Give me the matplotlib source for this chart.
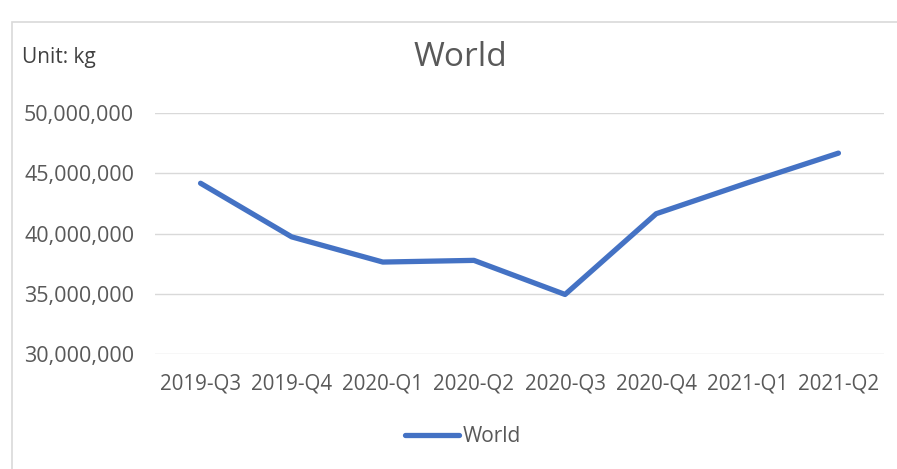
import matplotlib
matplotlib.use("Agg")
import matplotlib.pyplot as plt
from matplotlib.ticker import FuncFormatter, MultipleLocator
from matplotlib.patches import Rectangle

categories = ["2019-Q3", "2019-Q4", "2020-Q1", "2020-Q2", "2020-Q3", "2020-Q4", "2021-Q1", "2021-Q2"]
world = [44170000, 39720000, 37630000, 37770000, 34940000, 41640000, 44200000, 46670000]

plt.rcParams['font.family'] = ['Open Sans', 'DejaVu Sans']
W, H = 897, 469
fig = plt.figure(figsize=(W / 100, H / 100), dpi=100)
fig.patch.set_facecolor("white")

# chart border
fig.patches.append(Rectangle((12 / W, -0.01), 1.0, 1 - 22 / H + 0.01, transform=fig.transFigure,
                             fill=False, edgecolor="#d9d9d9", linewidth=1.2))

ax = fig.add_axes([155 / W, 1 - 354 / H, (884 - 155) / W, (354 - 113) / H])
x = list(range(len(categories)))
ax.plot(x, world, color="#4472C4", linewidth=3.8, solid_capstyle="round", solid_joinstyle="round",
        label="World", zorder=3)
ax.set_xlim(-0.5, len(categories) - 0.5)
ax.set_ylim(30000000, 50000000)
ax.yaxis.set_major_locator(MultipleLocator(5000000))
ax.yaxis.set_major_formatter(FuncFormatter(lambda v, p: f"{int(v):,}"))
ax.set_xticks(x)
ax.set_xticklabels(categories)
ax.grid(axis="y", color="#d9d9d9", linewidth=1.0)
ax.set_axisbelow(True)
for s in ax.spines.values():
    s.set_visible(False)
ax.tick_params(axis="y", length=0, labelsize=15.5, labelcolor="#595959", pad=15)
ax.tick_params(axis="x", length=0, labelsize=14.8, labelcolor="#595959", pad=14)

fig.text(460 / W, 1 - 58 / H, "World", ha="center", va="center", fontsize=24, color="#595959")
fig.text(22 / W, 1 - 57 / H, "Unit: kg", ha="left", va="center", fontsize=15, color="#404040")

leg = fig.legend(loc="center", bbox_to_anchor=(463 / W, 1 - 437 / H), frameon=False,
                 fontsize=15, handlelength=2.6, handletextpad=0.15)
for t in leg.get_texts():
    t.set_color("#595959")

fig.savefig("out.png", dpi=100, facecolor="white")
